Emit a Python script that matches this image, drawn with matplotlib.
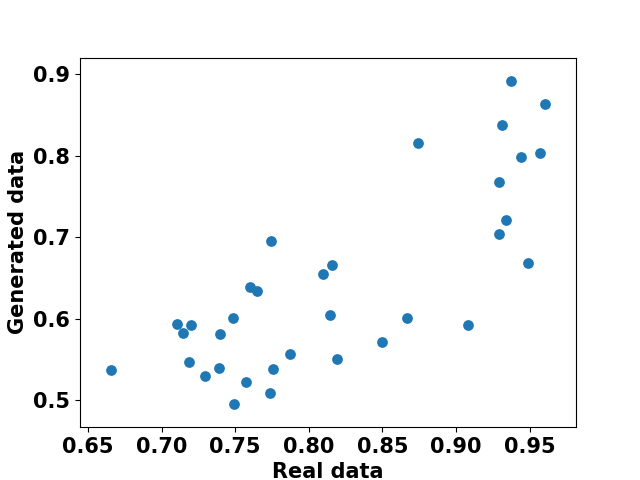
import numpy as np
import matplotlib
matplotlib.use('Agg')
import matplotlib.pyplot as plt

# Valores
real_data = [0.6658, 0.7104, 0.7201, 0.7147, 0.7742, 0.7600, 0.7645, 0.7484,
             0.7398, 0.7186, 0.7391, 0.7294, 0.7758, 0.7572, 0.7735, 0.7491,
             0.8156, 0.8095, 0.8143, 0.8665, 0.9079, 0.8498, 0.7873, 0.8192,
             0.9373, 0.9602, 0.9312, 0.8742, 0.9570, 0.9441, 0.9292, 0.9339,
             0.9292, 0.9489]
generated_data = [0.5372, 0.5937, 0.5921, 0.5823, 0.6957, 0.6392, 0.6339, 0.6011,
                  0.5815, 0.5467, 0.5397, 0.5299, 0.5385, 0.5221, 0.5090, 0.4955,
                  0.6662, 0.6552, 0.6044, 0.6007, 0.5921, 0.5713, 0.5569, 0.5507,
                  0.8919, 0.8636, 0.8378, 0.8157, 0.8034, 0.7985, 0.7678, 0.7211,
                  0.7043, 0.6683]

plt.rcParams['font.weight'] = 'bold'
plt.rcParams['font.size'] = 15

fig, ax = plt.subplots(figsize=(6.4, 4.8), dpi=100)
ax.scatter(real_data, generated_data, s=45, color='#1f77b4')
ax.margins(0.072)
ax.set_xlabel('Real data', fontweight='bold')
ax.set_ylabel('Generated data', fontweight='bold')

plt.savefig('out.png', dpi=100)
